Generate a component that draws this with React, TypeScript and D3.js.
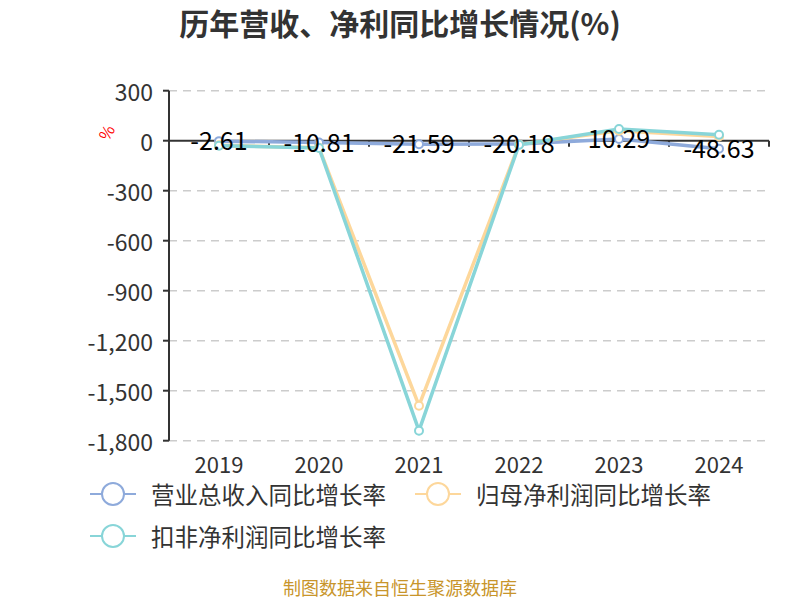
import React from "react";
import * as d3 from "d3";

const categories = ["2019", "2020", "2021", "2022", "2023", "2024"];
const seriesNames = ["营业总收入同比增长率", "归母净利润同比增长率", "扣非净利润同比增长率"];
const revenueGrowth = [-2.61, -10.81, -21.59, -20.18, 10.29, -48.63];
const netProfitGrowth = [-28, -42, -1590, -22, 60, 25];
const deductedProfitGrowth = [-30, -44, -1740, -25, 70, 36];
const yTicks = [300, 0, -300, -600, -900, -1200, -1500, -1800];
const colors = ["#8eaadb", "#fdd79b", "#88d5d8"];

const FONT = "'Noto Sans CJK SC', 'Noto Sans', sans-serif";

export default function App() {
  const left = 169, right = 769, top = 90.7, bottom = 440.7;
  const x = d3.scaleBand<string>().domain(categories).range([left, right]);
  const y = d3.scaleLinear().domain([-1800, 300]).range([bottom, top]);
  const line = d3
    .line<number>()
    .x((_, i) => (x(categories[i]) as number) + x.bandwidth() / 2)
    .y((d) => y(d));
  const allSeries = [revenueGrowth, netProfitGrowth, deductedProfitGrowth];
  const fmt = (v: number) => d3.format(",")(v).replace("−", "-");
  const zeroY = y(0);

  return (
    <svg
      width={800}
      height={600}
      style={{ position: "absolute", left: 0, top: 0, background: "#fff" }}
      fontFamily={FONT}
    >
      <text x={400} y={22} textAnchor="middle" dominantBaseline="central" fontSize={30} fontWeight="bold" fill="#333">
        历年营收、净利同比增长情况(%)
      </text>

      {/* grid */}
      {yTicks.filter((t) => t !== 0).map((t) => (
        <line key={t} x1={left} x2={right} y1={y(t)} y2={y(t)} stroke="#ccc" strokeDasharray="8,6" strokeWidth={1.5} />
      ))}

      {/* y axis */}
      <line x1={left} x2={left} y1={top} y2={bottom} stroke="#333" strokeWidth={2} />
      {yTicks.map((t) => (
        <g key={t}>
          <line x1={left - 6} x2={left} y1={y(t)} y2={y(t)} stroke="#333" strokeWidth={2} />
          <text x={left - 16} y={y(t)} textAnchor="end" dominantBaseline="central" fontSize={23} fill="#333">
            {fmt(t)}
          </text>
        </g>
      ))}
      <text
        x={106}
        y={132}
        fontSize={16}
        fill="red"
        textAnchor="middle"
        dominantBaseline="central"
        transform="rotate(-60 106 132)"
      >
        %
      </text>

      {/* x axis on zero */}
      <line x1={left} x2={right} y1={zeroY} y2={zeroY} stroke="#333" strokeWidth={2} />
      {categories.map((c) => (
        <line key={c} x1={(x(c) as number) + x.bandwidth()} x2={(x(c) as number) + x.bandwidth()} y1={zeroY} y2={zeroY + 6} stroke="#333" strokeWidth={2} />
      ))}
      {categories.map((c) => (
        <text key={c} x={(x(c) as number) + x.bandwidth() / 2} y={463} textAnchor="middle" dominantBaseline="central" fontSize={22} fill="#333">
          {c}
        </text>
      ))}

      {/* lines */}
      {allSeries.map((s, k) => (
        <path key={k} d={line(s) || ""} fill="none" stroke={colors[k]} strokeWidth={3.5} />
      ))}
      {allSeries.map((s, k) =>
        s.map((v, i) => (
          <circle
            key={`${k}-${i}`}
            cx={(x(categories[i]) as number) + x.bandwidth() / 2}
            cy={y(v)}
            r={4}
            fill="#fff"
            stroke={colors[k]}
            strokeWidth={2}
          />
        ))
      )}

      {/* labels */}
      {revenueGrowth.map((v, i) => (
        <text
          key={i}
          x={(x(categories[i]) as number) + x.bandwidth() / 2}
          y={y(v) - 2}
          textAnchor="middle"
          dominantBaseline="central"
          fontSize={25}
          fill="#000"
        >
          {v.toFixed(2)}
        </text>
      ))}

      {/* legend */}
      {seriesNames.map((n, k) => {
        const lx = k === 1 ? 415 : 90;
        const ly = k === 2 ? 536 : 494;
        return (
          <g key={n}>
            <line x1={lx} x2={lx + 46} y1={ly} y2={ly} stroke={colors[k]} strokeWidth={2} />
            <circle cx={lx + 23} cy={ly} r={11} fill="#fff" stroke={colors[k]} strokeWidth={2} />
            <text x={lx + 61} y={ly} dominantBaseline="central" fontSize={23.5} fill="#333">
              {n}
            </text>
          </g>
        );
      })}

      <text x={400} y={587} textAnchor="middle" dominantBaseline="central" fontSize={18} fill="#c8952b">
        制图数据来自恒生聚源数据库
      </text>
    </svg>
  );
}
